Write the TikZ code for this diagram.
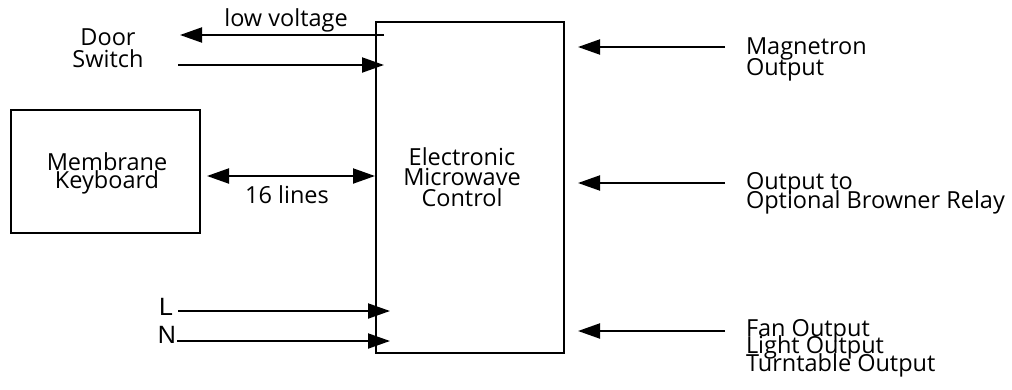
\documentclass[tikz,border=0pt]{standalone}
\usepackage{fontspec}
\setmainfont{Open Sans}
\newfontfamily\arialfont{Liberation Sans}
\usetikzlibrary{arrows.meta}
\newcommand\mytightls{\lineskiplimit=-100pt\relax\lineskip=0pt\relax}
\begin{document}
\begin{tikzpicture}[x=1pt,y=-1pt,
  line width=2pt,
  tip/.style={-{Triangle[length=22pt,width=15pt]}},
  dtip/.style={{Triangle[length=22pt,width=15pt]}-{Triangle[length=22pt,width=15pt]}},
  fs/.style={font=\fontsize{23.5}{#1}\selectfont\mytightls},
  lbl/.style={inner sep=0pt, align=left, anchor=base west},
  clbl/.style={inner sep=0pt, align=center, anchor=base},
  box/.style={draw, line width=2pt, inner sep=0pt},
  afont/.style={font=\arialfont\fontsize{25}{25}\selectfont, inner sep=0pt, anchor=base}]
\useasboundingbox (0,0) rectangle (1012,389);

% boxes
\node[box, minimum width=188pt, minimum height=331pt] (emc) at (470,187.5) {};
\node[clbl, fs=20.5] (emct) at (462,206) {Electronic\\Microwave\\Control};
\node[box, minimum width=189pt, minimum height=123pt] (kb) at (105.5,171.5) {};
\node[clbl, fs=18] (kbt) at (107,188) {Membrane\\Keyboard};

% left labels
\node[clbl, fs=22] (door) at (108,67) {Door\\Switch};
\node[clbl, fs=22] (lv) at (286,26) {low voltage};
\node[clbl, fs=22] (lines) at (287,203) {16 lines};
\node[afont] (L) at (166,315) {L};
\node[afont] (N) at (167,343) {N};

% right labels
\node[lbl, fs=21] (mag) at (745,75) {Magnetron\\Output};
\node[lbl, fs=19] (brw) at (745,208) {Output to\\Optional Browner Relay};
\node[lbl, fs=17.5] (fan) at (745,371) {Fan Output\\Light Output\\Turntable Output};

% coordinates
\coordinate (lvS) at (384,35);
\coordinate (lvE) at (180,35);
\coordinate (dsS) at (178,65);
\coordinate (dsE) at (384,65);
\coordinate (kbA) at (207,176);
\coordinate (kbB) at (375,176);
\coordinate (lS) at (178,311);
\coordinate (lE) at (390,311);
\coordinate (nS) at (177,341);
\coordinate (nE) at (390,341);
\coordinate (m1) at (725,47);
\coordinate (m2) at (578,47);
\coordinate (b1) at (725,183);
\coordinate (b2) at (578,183);
\coordinate (f1) at (725,331);
\coordinate (f2) at (578,331);

\draw[tip] (lvS) -- (lvE);
\draw[tip] (dsS) -- (dsE);
\draw[dtip] (kbA) -- (kbB);
\draw[tip] (lS) -- (lE);
\draw[tip] (nS) -- (nE);
\draw[tip] (m1) -- (m2);
\draw[tip] (b1) -- (b2);
\draw[tip] (f1) -- (f2);
\end{tikzpicture}
\end{document}
